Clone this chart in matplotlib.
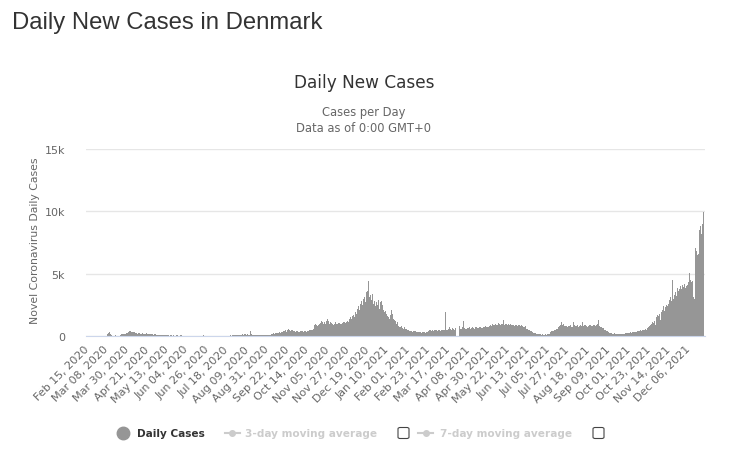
import numpy as np
import pandas as pd
import matplotlib
matplotlib.use('Agg')
import matplotlib.pyplot as plt
from matplotlib.lines import Line2D
from matplotlib.patches import FancyBboxPatch

# daily new cases in Denmark, one value per day starting Feb 15, 2020
start_date = '2020-02-15'
daily_cases = [
    0, 0, 0, 0, 0, 0, 0, 0, 0, 0, 0, 0, 1, 0, 1, 1, 2, 2, 5, 5, 4, 12,
    20, 180, 250, 310, 200, 60, 30, 40, 30, 50, 40, 30, 35, 40, 30, 120, 150, 180, 200, 160, 190, 220,
    250, 280, 330, 370, 390, 340, 310, 300, 360, 280, 240, 200, 180, 260, 230, 170, 190, 220, 200, 150, 180, 210,
    160, 180, 150, 170, 140, 130, 150, 120, 160, 140, 110, 90, 80, 70, 100, 60, 80, 90, 70, 60, 50, 80,
    60, 50, 70, 40, 45, 60, 35, 50, 40, 30, 55, 45, 40, 35, 30, 45, 50, 25, 30, 40, 35, 30,
    30, 25, 40, 20, 35, 30, 15, 25, 30, 20, 35, 15, 20, 25, 30, 20, 15, 25, 100, 20, 15, 25,
    20, 15, 25, 10, 20, 15, 10, 20, 12, 18, 10, 15, 20, 25, 10, 15, 20, 30, 25, 20, 15, 25,
    30, 40, 35, 45, 50, 40, 60, 55, 70, 45, 60, 80, 70, 65, 90, 80, 120, 150, 100, 160, 130, 90,
    140, 120, 110, 380, 130, 150, 100, 120, 90, 70, 80, 60, 90, 70, 80, 60, 70, 90, 80, 70, 60, 90,
    80, 100, 90, 120, 160, 200, 180, 230, 170, 250, 220, 280, 240, 300, 260, 330, 350, 300, 400, 380, 450, 340,
    480, 560, 500, 420, 460, 520, 430, 380, 410, 350, 390, 440, 360, 330, 400, 420, 370, 350, 390, 410, 380, 360,
    400, 420, 450, 480, 500, 520, 560, 600, 900, 960, 850, 800, 920, 1000, 1050, 1200, 1100, 950, 1300, 1150, 1000, 1180,
    1350, 1200, 950, 1100, 1050, 1000, 900, 950, 1050, 1100, 1000, 980, 1020, 1080, 1000, 950, 1050, 1100, 1150, 1000, 1080, 1120,
    1200, 1150, 1400, 1500, 1350, 1600, 1700, 1550, 1900, 2000, 1800, 2200, 2400, 2100, 2600, 2800, 2500, 3000, 3100, 2700, 3200, 3500,
    3600, 4450, 3100, 3300, 2900, 3400, 2600, 2800, 2400, 3100, 2700, 2500, 2900, 2200, 2700, 2800, 2500, 2100, 1900, 2000, 1800, 1700,
    1600, 1500, 1400, 1700, 2100, 1800, 1400, 1300, 1200, 1000, 900, 1100, 800, 750, 700, 820, 650, 600, 700, 550, 600, 520,
    480, 450, 420, 400, 380, 350, 420, 400, 380, 360, 330, 300, 350, 320, 310, 280, 300, 330, 290, 270, 300, 320,
    400, 430, 450, 470, 420, 480, 440, 460, 500, 450, 420, 480, 510, 470, 440, 500, 450, 480, 520, 1950, 460, 480,
    600, 520, 700, 550, 480, 650, 600, 500, 620, 0, 0, 0, 0, 800, 600, 550, 700, 1170, 650, 580, 600, 620,
    640, 700, 600, 580, 650, 720, 680, 600, 750, 700, 650, 620, 700, 780, 720, 680, 640, 760, 700, 800, 740, 690,
    750, 820, 900, 860, 800, 950, 880, 920, 1000, 850, 900, 1050, 980, 920, 1100, 1000, 950, 1280, 900, 1000, 950, 880,
    950, 900, 1000, 1250, 880, 850, 920, 800, 900, 870, 780, 850, 900, 820, 760, 880, 800, 750, 700, 820, 600, 550,
    500, 450, 400, 380, 320, 350, 280, 250, 220, 200, 180, 150, 130, 150, 120, 100, 140, 120, 100, 130, 110, 150,
    180, 200, 350, 400, 420, 450, 400, 500, 480, 550, 600, 700, 800, 850, 1100, 900, 950, 1000, 800, 780, 820, 750,
    800, 780, 850, 760, 720, 800, 1100, 850, 820, 780, 900, 760, 820, 880, 800, 1150, 830, 780, 900, 850, 820, 760,
    800, 850, 900, 780, 820, 880, 760, 850, 820, 900, 1000, 1280, 800, 750, 700, 650, 620, 560, 500, 480, 420, 380,
    300, 280, 250, 220, 200, 180, 240, 210, 170, 150, 190, 160, 140, 200, 170, 150, 130, 180, 200, 220, 250, 230,
    260, 280, 300, 250, 320, 290, 350, 300, 280, 330, 400, 380, 420, 450, 400, 500, 480, 460, 550, 600, 520, 650,
    700, 800, 900, 1000, 1100, 1050, 1200, 900, 1350, 1500, 1700, 1600, 1750, 1300, 1900, 2100, 2400, 2000, 2300, 2500, 2700, 2400,
    2600, 2900, 3100, 2800, 4480, 3000, 3300, 3500, 3200, 3700, 3870, 3600, 3800, 4000, 3750, 4100, 3900, 4140, 3850, 4000, 4200, 4100,
    4300, 5070, 4500, 4300, 4400, 3100, 2950, 7070, 6800, 6500, 5900, 6600, 8500, 8800, 8200, 9000, 9960,
]
tick_step = 22
y_ticks = [0, 5000, 10000, 15000]
y_tick_labels = ['0', '5k', '10k', '15k']
legend_labels = ['Daily Cases', '3-day moving average', '7-day moving average']

dates = pd.date_range(start_date, periods=len(daily_cases), freq='D')
x = np.arange(len(daily_cases))

W, H = 733, 456
fig = plt.figure(figsize=(W / 100, H / 100), dpi=100)
ax = fig.add_axes([86 / W, 1 - 337 / H, 619 / W, 187 / H])

ax.bar(x, daily_cases, width=1.0, color='#969696', linewidth=0)
ax.set_xlim(-1, 677.7)
ax.set_ylim(0, 15000)

ax.set_xticks(x[::tick_step])
ax.set_xticklabels(dates[::tick_step].strftime('%b %d, %Y'), rotation=45,
                   ha='right', va='center', rotation_mode='anchor')
ax.tick_params(axis='x', length=0, pad=8, labelsize=8, labelcolor='#666666')
ax.set_yticks(y_ticks)
ax.set_yticklabels(y_tick_labels)
ax.tick_params(axis='y', length=0, pad=15, labelsize=8, labelcolor='#666666')

ax.yaxis.grid(True, color='#e6e6e6', linewidth=1)
ax.set_axisbelow(True)
for s in ['top', 'right', 'left']:
    ax.spines[s].set_visible(False)
ax.spines['bottom'].set_color('#ccd6eb')
ax.spines['bottom'].set_zorder(3)

# titles
fig.text(12 / W, 1 - 29 / H, 'Daily New Cases in Denmark', family='Liberation Sans',
         fontsize=17.2, color='#333333', va='baseline')
fig.text(364 / W, 1 - 88 / H, 'Daily New Cases', fontsize=12.2, color='#333333',
         ha='center', va='baseline')
fig.text(364 / W, 1 - 116 / H, 'Cases per Day', fontsize=8.3, color='#666666',
         ha='center', va='baseline')
fig.text(364 / W, 1 - 132 / H, 'Data as of 0:00 GMT+0', fontsize=8.3, color='#666666',
         ha='center', va='baseline')
fig.text(35 / W, 1 - 241 / H, 'Novel Coronavirus Daily Cases', rotation=90, fontsize=7.8,
         color='#666666', ha='center', va='center')

# legend drawn by hand (Highcharts style with checkboxes)
ly = 1 - 434 / H
fig.add_artist(Line2D([123 / W], [ly], marker='o', markersize=9, color='#969696', linestyle=''))
fig.text(137 / W, ly, legend_labels[0], fontsize=7.6, fontweight='bold', color='#333333', va='center')
for x0, bx in [(225, 398), (418, 593)]:
    fig.add_artist(Line2D([x0 / W, (x0 + 15) / W], [ly, ly], color='#cccccc', linewidth=1.5))
    fig.add_artist(Line2D([(x0 + 7.5) / W], [ly], marker='o', markersize=4, color='#cccccc'))
    fig.add_artist(FancyBboxPatch((bx / W, ly - 5.5 / H), 11 / W, 11 / H,
                                  boxstyle='round,pad=0,rounding_size=0.003',
                                  fill=False, edgecolor='#444444', linewidth=0.8))
fig.text(245 / W, ly, legend_labels[1], fontsize=7.6, fontweight='bold', color='#cccccc', va='center')
fig.text(440 / W, ly, legend_labels[2], fontsize=7.6, fontweight='bold', color='#cccccc', va='center')

fig.savefig('out.png', dpi=100)
